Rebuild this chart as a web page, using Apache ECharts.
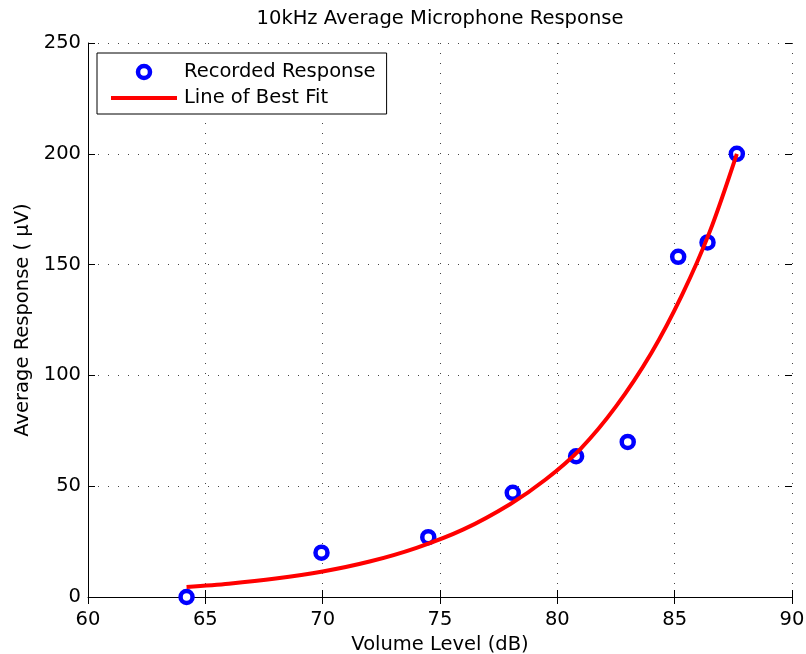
<!DOCTYPE html>
<html>
<head>
<meta charset="utf-8">
<title>10kHz Average Microphone Response</title>
<script src="https://cdn.jsdelivr.net/npm/echarts@6/dist/echarts.min.js"></script>
<style>
  html, body { margin: 0; padding: 0; background: #ffffff; }
  #chart { width: 806px; height: 654px; }
</style>
</head>
<body>
<div id="chart"></div>
<script>
// Measured microphone response at each volume level
const volumeLevels = [64.2, 69.95, 74.5, 78.1, 80.8, 83.0, 85.15, 86.4, 87.65];
const responses    = [0, 20, 27, 47, 63.5, 70, 153.5, 160, 200];

// Fitted curve through the measurements
const fitLevels    = [64.2, 66, 68, 70, 72, 74, 76, 78, 79.5, 81, 82.5, 84, 85.3, 86.5, 87.65];
const fitResponses = [4.5, 6.0, 8.3, 11.5, 16.0, 22.2, 30.5, 42, 53, 67, 86, 110, 136, 165, 200];

// Axis ticks
const xTicks = [60, 65, 70, 75, 80, 85, 90];
const yTicks = [0, 50, 100, 150, 200, 250];

const FONT = 'DejaVu Sans';
const FS = 19.5;

const pairs = (xs, ys) => xs.map((x, i) => [x, ys[i]]);

const chart = echarts.init(document.getElementById('chart'), null, { renderer: 'canvas' });

const dotted = { show: true, lineStyle: { color: '#444', width: 1, type: [1, 9] } };
const innerTick = { show: true, inside: true, length: 7, lineStyle: { color: '#000' } };

const xBase = {
  type: 'value',
  min: xTicks[0],
  max: xTicks[xTicks.length - 1],
  interval: xTicks[1] - xTicks[0]
};
const yBase = {
  type: 'value',
  min: yTicks[0],
  max: yTicks[yTicks.length - 1],
  interval: yTicks[1] - yTicks[0]
};

chart.setOption({
  backgroundColor: '#ffffff',
  animation: false,
  textStyle: { fontFamily: FONT, color: '#000' },
  title: {
    text: '10kHz Average Microphone Response',
    left: 440,
    top: 9,
    padding: 0,
    textAlign: 'center',
    textStyle: { fontFamily: FONT, fontSize: FS, fontWeight: 'normal', color: '#000' }
  },
  grid: { left: 88, right: 14, top: 43, bottom: 57, containLabel: false, outerBoundsMode: 'none' },
  legend: {
    orient: 'vertical',
    left: 97,
    top: 53,
    padding: [9, 11, 6, 14],
    itemGap: 6,
    itemWidth: 66,
    itemHeight: 12,
    backgroundColor: '#ffffff',
    borderColor: '#000',
    borderWidth: 1,
    borderRadius: 0,
    selectedMode: false,
    textStyle: { fontFamily: FONT, fontSize: FS, color: '#000', lineHeight: 20, padding: [0, 0, 0, 2] },
    data: [
      {
        name: 'Recorded Response',
        icon: 'circle',
        itemStyle: { color: '#ffffff', borderColor: '#0000ff', borderWidth: 4.5 }
      },
      {
        name: 'Line of Best Fit',
        icon: 'path://M0,0 L66,0 L66,4 L0,4 Z',
        itemStyle: { color: '#ff0000', borderWidth: 0 }
      }
    ]
  },
  xAxis: [
    Object.assign({}, xBase, {
      position: 'bottom',
      name: 'Volume Level (dB)',
      nameLocation: 'middle',
      nameGap: 32,
      nameTextStyle: { fontFamily: FONT, fontSize: FS, color: '#000' },
      axisLine: { show: true, onZero: false, lineStyle: { color: '#000', width: 1 } },
      axisTick: innerTick,
      axisLabel: { fontFamily: FONT, fontSize: FS, color: '#000', margin: 13 },
      splitLine: dotted
    }),
    Object.assign({}, xBase, {
      position: 'top',
      axisLine: { show: false },
      axisTick: innerTick,
      axisLabel: { show: false },
      splitLine: { show: false }
    })
  ],
  yAxis: [
    Object.assign({}, yBase, {
      position: 'left',
      name: 'Average Response ( μV)',
      nameLocation: 'middle',
      nameGap: 54,
      nameTextStyle: { fontFamily: FONT, fontSize: FS, color: '#000' },
      axisLine: { show: true, onZero: false, lineStyle: { color: '#000', width: 1 } },
      axisTick: innerTick,
      axisLabel: { fontFamily: FONT, fontSize: FS, color: '#000', margin: 7 },
      splitLine: dotted
    }),
    Object.assign({}, yBase, {
      position: 'right',
      axisLine: { show: false },
      axisTick: innerTick,
      axisLabel: { show: false },
      splitLine: { show: false }
    })
  ],
  series: [
    {
      name: 'Recorded Response',
      type: 'scatter',
      xAxisIndex: 0,
      yAxisIndex: 0,
      symbol: 'circle',
      symbolSize: 12,
      itemStyle: { color: '#ffffff', borderColor: '#0000ff', borderWidth: 4.5, opacity: 1 },
      data: pairs(volumeLevels, responses)
    },
    {
      name: 'Line of Best Fit',
      type: 'line',
      xAxisIndex: 0,
      yAxisIndex: 0,
      symbol: 'none',
      smooth: 0.3,
      lineStyle: { color: '#ff0000', width: 4 },
      itemStyle: { color: '#ff0000' },
      data: pairs(fitLevels, fitResponses)
    }
  ]
});
</script>
</body>
</html>
